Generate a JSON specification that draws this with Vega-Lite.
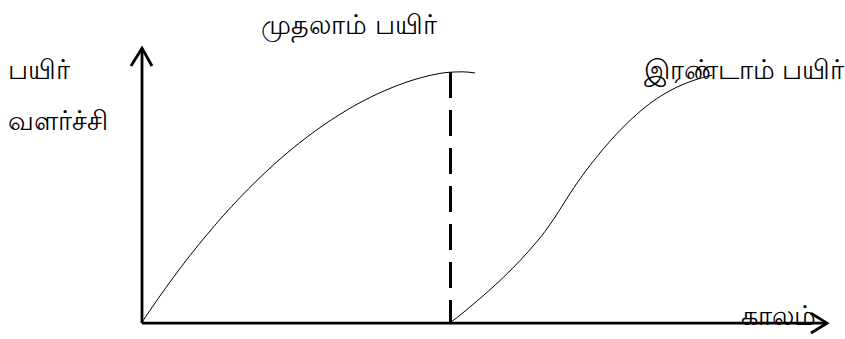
{
  "$schema": "https://vega.github.io/schema/vega-lite/v6.json",
  "width": 845,
  "height": 339,
  "padding": 0,
  "autosize": {"type": "fit", "contains": "padding"},
  "background": "white",
  "config": {"view": {"stroke": null}},
  "datasets": {
    "lines": [
      {"part": "curve1", "ord": 1, "t": 142, "g": 12},
      {"part": "curve1", "ord": 2, "t": 157, "g": 34.3},
      {"part": "curve1", "ord": 3, "t": 173, "g": 57},
      {"part": "curve1", "ord": 4, "t": 190, "g": 79.7},
      {"part": "curve1", "ord": 5, "t": 207, "g": 100.9},
      {"part": "curve1", "ord": 6, "t": 223, "g": 119.8},
      {"part": "curve1", "ord": 7, "t": 240, "g": 138.5},
      {"part": "curve1", "ord": 8, "t": 257, "g": 155.9},
      {"part": "curve1", "ord": 9, "t": 273, "g": 171.2},
      {"part": "curve1", "ord": 10, "t": 290, "g": 186.2},
      {"part": "curve1", "ord": 11, "t": 307, "g": 199.9},
      {"part": "curve1", "ord": 12, "t": 323, "g": 211.7},
      {"part": "curve1", "ord": 13, "t": 340, "g": 223},
      {"part": "curve1", "ord": 14, "t": 357, "g": 233.2},
      {"part": "curve1", "ord": 15, "t": 373, "g": 241.6},
      {"part": "curve1", "ord": 16, "t": 390, "g": 249.3},
      {"part": "curve1", "ord": 17, "t": 407, "g": 255.8},
      {"part": "curve1", "ord": 18, "t": 423, "g": 260.7},
      {"part": "curve1", "ord": 19, "t": 440, "g": 264.5},
      {"part": "curve1", "ord": 20, "t": 450, "g": 265.7},
      {"part": "curve1", "ord": 21, "t": 463, "g": 266.1},
      {"part": "curve1", "ord": 22, "t": 475, "g": 264.9},
      {"part": "curve2", "ord": 1, "t": 451, "g": 12},
      {"part": "curve2", "ord": 2, "t": 465, "g": 23.2},
      {"part": "curve2", "ord": 3, "t": 478, "g": 34.3},
      {"part": "curve2", "ord": 4, "t": 495, "g": 49.6},
      {"part": "curve2", "ord": 5, "t": 512, "g": 66.1},
      {"part": "curve2", "ord": 6, "t": 528, "g": 83.4},
      {"part": "curve2", "ord": 7, "t": 545, "g": 104.1},
      {"part": "curve2", "ord": 8, "t": 555, "g": 118.6},
      {"part": "curve2", "ord": 9, "t": 562, "g": 129.8},
      {"part": "curve2", "ord": 10, "t": 578, "g": 154.6},
      {"part": "curve2", "ord": 11, "t": 595, "g": 177.6},
      {"part": "curve2", "ord": 12, "t": 612, "g": 198},
      {"part": "curve2", "ord": 13, "t": 628, "g": 214.8},
      {"part": "curve2", "ord": 14, "t": 645, "g": 230.1},
      {"part": "curve2", "ord": 15, "t": 662, "g": 242.3},
      {"part": "curve2", "ord": 16, "t": 678, "g": 251.1},
      {"part": "curve2", "ord": 17, "t": 695, "g": 257.9},
      {"part": "curve2", "ord": 18, "t": 712, "g": 262.7},
      {"part": "yaxis", "ord": 1, "t": 142, "g": 11},
      {"part": "yaxis", "ord": 2, "t": 142, "g": 290},
      {"part": "xaxis", "ord": 1, "t": 142, "g": 11},
      {"part": "xaxis", "ord": 2, "t": 827, "g": 11},
      {"part": "yarrow", "ord": 1, "t": 131, "g": 272},
      {"part": "yarrow", "ord": 2, "t": 142, "g": 290},
      {"part": "yarrow", "ord": 3, "t": 152, "g": 272},
      {"part": "xarrow", "ord": 1, "t": 811, "g": 21},
      {"part": "xarrow", "ord": 2, "t": 827, "g": 11},
      {"part": "xarrow", "ord": 3, "t": 811, "g": 1},
      {"part": "dash", "ord": 1, "t": 450.5, "g": 266},
      {"part": "dash", "ord": 2, "t": 450.5, "g": 11}
    ],
    "labels_left": [
      {"label": "பயிர்", "t": 8, "g": 267},
      {"label": "வளர்ச்சி", "t": 8, "g": 215},
      {"label": "காலம்", "t": 741, "g": 17}
    ],
    "labels_center": [
      {"label": "முதலாம் பயிர்", "t": 349, "g": 313},
      {"label": "இரண்டாம் பயிர்", "t": 744, "g": 267}
    ]
  },
  "layer": [
    {
      "data": {"name": "lines"},
      "transform": [{"filter": "datum.part === 'curve1' || datum.part === 'curve2'"}],
      "mark": {"type": "line", "color": "black", "strokeWidth": 1, "interpolate": "monotone"},
      "encoding": {
        "x": {"field": "t", "type": "quantitative", "scale": {"domain": [0, 845]}, "axis": null},
        "y": {"field": "g", "type": "quantitative", "scale": {"domain": [0, 339]}, "axis": null},
        "detail": {"field": "part"},
        "order": {"field": "ord"}
      }
    },
    {
      "data": {"name": "lines"},
      "transform": [{"filter": "datum.part === 'xaxis' || datum.part === 'yaxis' || datum.part === 'xarrow' || datum.part === 'yarrow'"}],
      "mark": {"type": "line", "color": "black", "strokeWidth": 2.8, "strokeCap": "butt", "strokeJoin": "miter"},
      "encoding": {
        "x": {"field": "t", "type": "quantitative", "scale": {"domain": [0, 845]}, "axis": null},
        "y": {"field": "g", "type": "quantitative", "scale": {"domain": [0, 339]}, "axis": null},
        "detail": {"field": "part"},
        "order": {"field": "ord"}
      }
    },
    {
      "data": {"name": "lines"},
      "transform": [{"filter": "datum.part === 'dash'"}],
      "mark": {"type": "line", "color": "black", "strokeWidth": 3, "strokeDash": [26, 12]},
      "encoding": {
        "x": {"field": "t", "type": "quantitative", "scale": {"domain": [0, 845]}, "axis": null},
        "y": {"field": "g", "type": "quantitative", "scale": {"domain": [0, 339]}, "axis": null},
        "order": {"field": "ord"}
      }
    },
    {
      "data": {"name": "labels_left"},
      "mark": {"type": "text", "align": "left", "baseline": "middle", "fontSize": 27, "font": "Noto Sans", "color": "black"},
      "encoding": {
        "x": {"field": "t", "type": "quantitative", "scale": {"domain": [0, 845]}, "axis": null},
        "y": {"field": "g", "type": "quantitative", "scale": {"domain": [0, 339]}, "axis": null},
        "text": {"field": "label"}
      }
    },
    {
      "data": {"name": "labels_center"},
      "mark": {"type": "text", "align": "center", "baseline": "middle", "fontSize": 27, "font": "Noto Sans", "color": "black"},
      "encoding": {
        "x": {"field": "t", "type": "quantitative", "scale": {"domain": [0, 845]}, "axis": null},
        "y": {"field": "g", "type": "quantitative", "scale": {"domain": [0, 339]}, "axis": null},
        "text": {"field": "label"}
      }
    }
  ]
}
